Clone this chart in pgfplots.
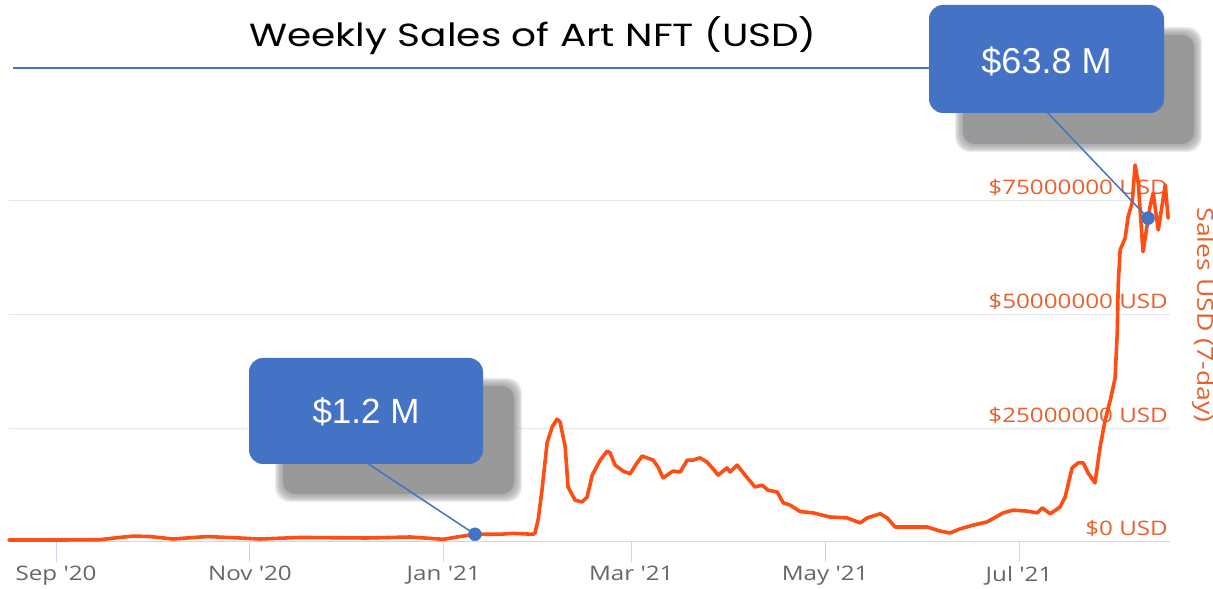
\documentclass[border=0pt]{standalone}
\usepackage{pgfplots}
\usepackage{pgfplotstable}
\pgfplotsset{compat=1.18}
\usepackage{fontspec}
\setmainfont{Liberation Sans}
\newfontfamily\tickfont[FakeStretch=1.21, Ligatures=TeXOff]{Open Sans}
\newfontfamily\titlefont[FakeStretch=1.22]{Poppins}
\newfontfamily\calloutfont{Liberation Sans}
\definecolor{lineor}{HTML}{FF4D14}
\definecolor{labor}{HTML}{E8602C}
\definecolor{gridc}{HTML}{E6E6E6}
\definecolor{axisc}{HTML}{CCD6EB}
\definecolor{callb}{HTML}{4472C4}
\definecolor{shad}{HTML}{999999}
\definecolor{tickg}{HTML}{666666}

% day = days since 1 Sep 2020, value = weekly sales in million USD
\pgfplotstableread{
day value
-14.8 0.44
1.3 0.44
13.8 0.5
18.6 0.9
24.2 1.3
29.6 1.2
36.8 0.66
47.5 1.2
55.7 0.95
64.2 0.66
76.8 1.0
97.9 0.88
111.4 1.1
121.8 0.6
127.1 1.2
131.8 1.7
139.7 1.7
143.8 1.9
150.1 1.7
150.7 2.0
151.7 5.0
152.9 11.4
154.5 21.8
156.1 25.3
157.6 27.0
158.6 26.4
160.2 20.9
161.1 12.1
163.3 9.2
165.5 8.8
167.1 9.9
168.7 14.7
171.2 18.0
173.4 20.0
174.3 19.6
175.9 16.9
178.4 15.6
180.6 15.0
182.8 17.4
184.4 18.9
187.9 18.0
189.4 16.5
191.0 14.1
194.1 15.6
196.4 15.4
198.6 18.0
200.4 18.0
202.6 18.5
204.8 17.6
206.7 16.1
208.3 14.7
211.1 16.3
212.1 15.4
214.3 16.9
216.8 14.7
219.9 12.1
222.2 12.5
224.0 11.4
226.9 11.0
228.8 8.6
231.0 8.1
234.1 6.7
238.2 6.4
243.5 5.5
248.9 5.3
253.0 4.2
255.2 5.3
259.3 6.2
261.5 5.3
264.0 3.3
269.7 3.3
274.1 3.3
278.2 2.4
281.3 2.0
284.5 2.9
288.5 3.7
292.9 4.4
298.0 6.4
301.1 7.0
305.5 6.8
308.7 6.4
310.3 7.5
312.8 6.2
315.9 7.7
317.5 9.9
319.7 16.3
321.6 17.4
323.2 17.4
324.7 15.2
326.9 13.0
328.5 20.9
330.1 26.8
331.7 31.2
333.2 36.0
333.9 46.0
334.2 56.7
334.8 64.2
336.4 66.9
337.3 71.5
338.6 74.6
339.5 82.9
340.5 79.0
342.0 63.8
344.2 73.7
345.2 76.7
346.8 68.6
349.0 78.5
349.9 71.2
}\salesdata

\newcommand\softshadow[4]{%
  \fill[shad, rounded corners=12pt] (#1+3,#2+3) rectangle (#3-3,#4-3);
  \foreach \k in {-5,-4,-3,-2,-1,0,1,2} {%
    \fill[shad, fill opacity=0.18, rounded corners=15pt] (#1+\k,#2+\k) rectangle (#3-\k,#4-\k);}%
}

\begin{document}
\begin{tikzpicture}[x=1pt,y=1pt]
\path[use as bounding box] (0,0) rectangle (1213,589);
\begin{axis}[
  at={(9pt,47pt)}, anchor=south west,
  scale only axis, width=1161pt, height=386.6pt,
  xmin=-14.8, xmax=350.5, ymin=0, ymax=85,
  axis x line*=bottom, axis y line*=right,
  x axis line style={draw=axisc, line width=1pt, -},
  y axis line style={draw=none},
  xtick={0,61,122,181,242,303},
  xticklabels={Sep '20, Nov '20, Jan '21, Mar '21, May '21, Jul '21},
  xtick style={draw=axisc, line width=1pt},
  tick align=outside, major tick length=20pt,
  xticklabel style={font=\tickfont\fontsize{20}{24}\selectfont, text=tickg, inner sep=0pt, yshift=-4pt},
  ytick={0,25,50,75},
  yticklabels={\$0 USD, \$25000000 USD, \$50000000 USD, \$75000000 USD},
  ytick style={draw=none},
  yticklabel style={font=\tickfont\fontsize{20}{24}\selectfont, text=labor, anchor=base east, inner sep=0pt, xshift=-22pt, yshift=6pt},
  ymajorgrids, grid style={draw=gridc, line width=1pt},
  clip=false,
]
\addplot[lineor, line width=3.6pt, line join=round, line cap=round] table[x=day, y=value] {\salesdata};
\addplot[only marks, mark=*, mark size=6.5pt, mark options={draw=callb, fill=callb}] coordinates {(131.8,1.7) (343.6,71.2)};
\coordinate (d1) at (axis cs:131.8,1.7);
\coordinate (d2) at (axis cs:343.6,71.2);
\end{axis}
% title
\node[font=\titlefont\fontsize{32}{38}\selectfont, text=black] at (533,553) {Weekly Sales of Art NFT (USD)};
% right axis title
\node[rotate=-90, font=\tickfont\fontsize{22}{26}\selectfont, text=labor] at (1203,274) {Sales USD (7-day)};
% horizontal rule
\draw[draw=callb, line width=2pt] (13,521) -- (930,521);
% callout 1
\softshadow{280}{92}{517}{206}
\draw[callb, line width=1.5pt] (367,126) -- (d1);
\fill[callb, rounded corners=14pt] (249,125) rectangle (483,231);
\node[font=\calloutfont\fontsize{35}{40}\selectfont, text=white] at (366,177) {\$1.2 M};
% callout 2
\softshadow{960}{442}{1197}{557}
\draw[callb, line width=1.5pt] (1046,478) -- (d2);
\fill[callb, rounded corners=14pt] (929,476) rectangle (1164,584);
\node[font=\calloutfont\fontsize{36}{40}\selectfont, text=white] at (1046.5,528) {\$63.8 M};
\end{tikzpicture}
\end{document}
